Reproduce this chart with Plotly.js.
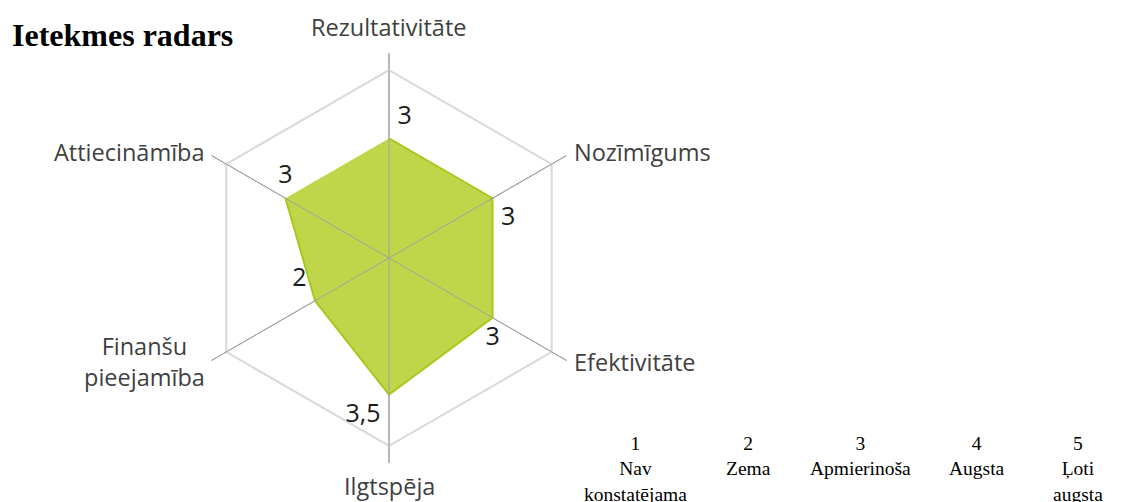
<!DOCTYPE html>
<html>
<head>
<meta charset="utf-8">
<script src="https://cdn.plot.ly/plotly-3.0.1.min.js"></script>
<style>
html,body{margin:0;padding:0;background:#fff;}
#chart{width:1125px;height:502px;}
</style>
</head>
<body>
<div id="chart"></div>
<script>
// ---- data ----
var categories = ['Rezultativitāte', 'Nozīmīgums', 'Efektivitāte', 'Ilgtspēja', 'Finanšu<br>pieejamība', 'Attiecināmība'];
var values = [3, 3, 3, 3.5, 2, 3];
var valueLabels = ['3', '3', '3', '3,5', '2', '3'];
var scaleNumbers = ['1', '2', '3', '4', '5'];
var scaleLabels = ['Nav<br>konstatējama', 'Zema', 'Apmierinoša', 'Augsta', 'Ļoti<br>augsta'];
var scaleMax = 5;

// ---- layout constants ----
var W = 1125, H = 502;
var cx = 389, cy = 258, R = 205;
var rMin = -0.5, rMax = 5.5;

var valueLabelPos = ['top right', 'bottom right', 'bottom center', 'bottom left', 'top left', 'top center'];

// category label placement (pixels) around the radar
var catLabelPlace = [
  {x: 388, y: 27, xa: 'center'},
  {x: 572, y: 152, xa: 'left'},
  {x: 572, y: 362, xa: 'left'},
  {x: 389, y: 486, xa: 'center'},
  {x: 207, y: 361, xa: 'right'},
  {x: 207, y: 152, xa: 'right'}
];

var frameTheta = categories.concat([categories[0]]);
var frameR = frameTheta.map(function(){ return scaleMax; });

// spokes drawn above the fill
var spokeTheta = [], spokeR = [];
categories.forEach(function(c){
  spokeTheta.push(c, c, null);
  spokeR.push(rMin, rMax, null);
});

var traces = [
  {
    type: 'scatterpolar', mode: 'lines',
    r: frameR, theta: frameTheta,
    line: {color: '#d9d9d9', width: 2},
    hoverinfo: 'skip', showlegend: false
  },
  {
    type: 'scatterpolar', mode: 'lines+markers+text',
    r: values, theta: categories,
    fill: 'toself',
    fillcolor: '#c0d64a',
    line: {color: '#a9c81e', width: 2},
    marker: {size: 12, color: 'rgba(0,0,0,0)'},
    text: valueLabels,
    textposition: valueLabelPos,
    textfont: {family: 'Open Sans, sans-serif', size: 25, color: '#1a1a1a'},
    showlegend: false
  },
  {
    type: 'scatterpolar', mode: 'lines',
    r: spokeR, theta: spokeTheta,
    line: {color: '#a0a0a0', width: 1},
    connectgaps: false,
    hoverinfo: 'skip', showlegend: false
  }
];

var annotations = [];
categories.forEach(function(c, i){
  var p = catLabelPlace[i];
  annotations.push({
    text: c,
    xref: 'paper', yref: 'paper',
    x: p.x / W, y: (H - p.y) / H,
    xanchor: p.xa, yanchor: 'middle',
    showarrow: false, align: 'center',
    font: {family: 'Open Sans, sans-serif', size: 23.5, color: '#404040'}
  });
});

var colX = [635, 748, 860, 977, 1078];
scaleNumbers.forEach(function(n, i){
  annotations.push({
    text: n + '<br>' + scaleLabels[i],
    xref: 'paper', yref: 'paper',
    x: colX[i] / W, y: (H - 431) / H,
    xanchor: 'center', yanchor: 'top',
    showarrow: false, align: 'center',
    font: {family: 'Liberation Serif, Times New Roman, serif', size: 19.5, color: '#000'}
  });
});

var layout = {
  width: W, height: H,
  margin: {l: 0, r: 0, t: 0, b: 0},
  paper_bgcolor: '#fff',
  plot_bgcolor: '#fff',
  showlegend: false,
  title: {
    text: '<b>Ietekmes radars</b>',
    x: 12 / W, xanchor: 'left', xref: 'paper',
    y: (H - 35) / H, yanchor: 'middle', yref: 'container',
    font: {family: 'Liberation Serif, Times New Roman, serif', size: 32, color: '#000'}
  },
  polar: {
    domain: {x: [(cx - R) / W, (cx + R) / W], y: [(H - cy - R) / H, (H - cy + R) / H]},
    gridshape: 'linear',
    bgcolor: 'rgba(0,0,0,0)',
    radialaxis: {
      range: [rMin, rMax], showgrid: false, showline: false,
      showticklabels: false, ticks: ''
    },
    angularaxis: {
      rotation: 90, direction: 'clockwise',
      showline: false, showgrid: true, gridcolor: '#a0a0a0', gridwidth: 1,
      ticks: '', showticklabels: false
    }
  },
  annotations: annotations
};

Plotly.newPlot('chart', traces, layout, {displayModeBar: false, responsive: false});
</script>
</body>
</html>
